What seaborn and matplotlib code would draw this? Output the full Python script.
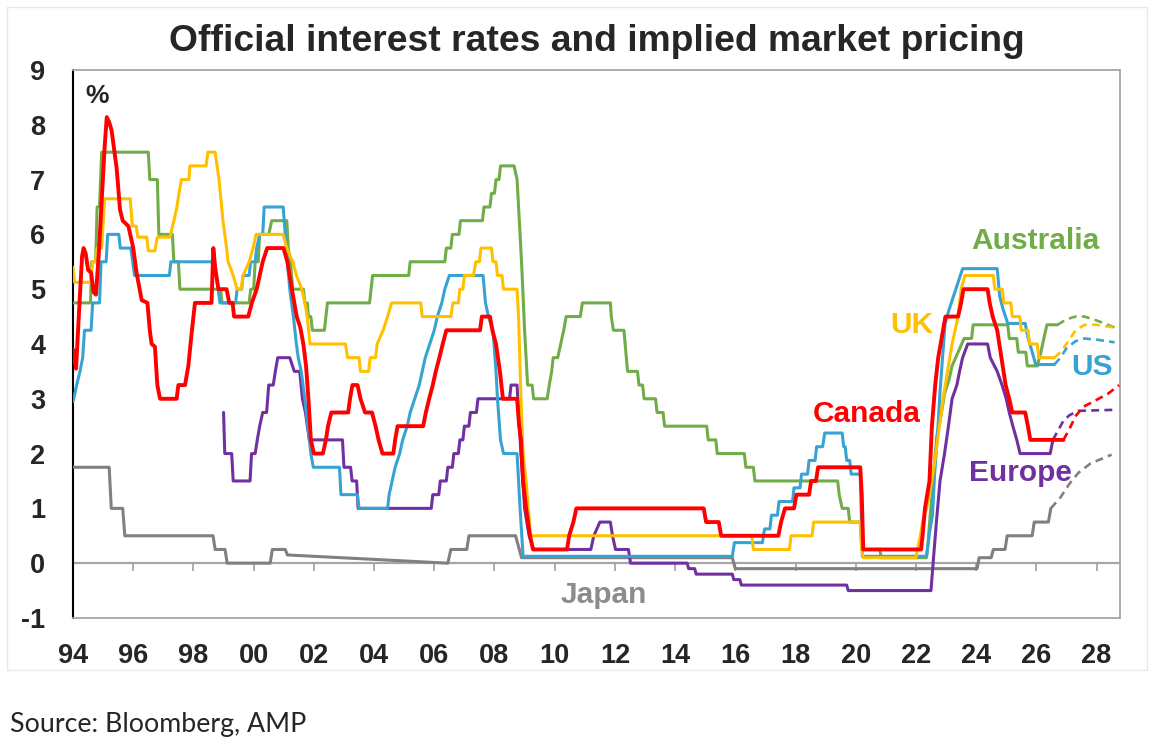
import pandas as pd
import matplotlib
matplotlib.use("Agg")
import matplotlib.pyplot as plt
import seaborn as sns
from matplotlib.patches import Rectangle

# Policy rates: (year, % rate)
australia = [(1994.0, 4.75), (1994.58, 4.75), (1994.62, 5.5), (1994.75, 5.5), (1994.8, 6.5), (1994.88, 6.5),
             (1994.95, 7.5), (1996.5, 7.5), (1996.55, 7.0), (1996.8, 7.0), (1996.85, 6.0), (1997.3, 6.0),
             (1997.35, 5.5), (1997.5, 5.5), (1997.55, 5.0), (1998.9, 5.0), (1998.95, 4.75), (1999.85, 4.75),
             (1999.9, 5.0), (2000.0, 5.0), (2000.05, 5.5), (2000.15, 5.5), (2000.2, 6.0), (2000.5, 6.0),
             (2000.6, 6.25), (2001.1, 6.25), (2001.15, 5.75), (2001.22, 5.5), (2001.3, 5.0), (2001.65, 5.0),
             (2001.7, 4.75), (2001.78, 4.75), (2001.82, 4.5), (2001.9, 4.5), (2001.95, 4.25), (2002.35, 4.25),
             (2002.4, 4.5), (2002.45, 4.75), (2003.85, 4.75), (2003.9, 5.0), (2003.95, 5.25), (2005.15, 5.25),
             (2005.2, 5.5), (2006.35, 5.5), (2006.4, 5.75), (2006.55, 5.75), (2006.6, 6.0), (2006.82, 6.0),
             (2006.87, 6.25), (2007.6, 6.25), (2007.65, 6.5), (2007.85, 6.5), (2007.9, 6.75), (2008.0, 6.75),
             (2008.05, 7.0), (2008.15, 7.0), (2008.2, 7.25), (2008.65, 7.25), (2008.75, 7.0), (2008.85, 6.0),
             (2008.92, 5.25), (2009.0, 4.25), (2009.1, 3.25), (2009.25, 3.25), (2009.3, 3.0), (2009.75, 3.0),
             (2009.82, 3.25), (2009.9, 3.5), (2009.95, 3.75), (2010.1, 3.75), (2010.2, 4.0), (2010.3, 4.25),
             (2010.38, 4.5), (2010.85, 4.5), (2010.92, 4.75), (2011.85, 4.75), (2011.88, 4.5), (2011.95, 4.25),
             (2012.3, 4.25), (2012.38, 3.75), (2012.42, 3.5), (2012.75, 3.5), (2012.8, 3.25), (2012.92, 3.25),
             (2012.97, 3.0), (2013.35, 3.0), (2013.4, 2.75), (2013.6, 2.75), (2013.65, 2.5), (2015.05, 2.5),
             (2015.1, 2.25), (2015.35, 2.25), (2015.4, 2.0), (2016.3, 2.0), (2016.35, 1.75), (2016.6, 1.75),
             (2016.65, 1.5), (2019.4, 1.5), (2019.45, 1.25), (2019.55, 1.0), (2019.75, 1.0), (2019.8, 0.75),
             (2020.15, 0.75), (2020.2, 0.25), (2020.8, 0.25), (2020.85, 0.1), (2022.35, 0.1), (2022.4, 0.35),
             (2022.47, 0.85), (2022.55, 1.35), (2022.62, 1.85), (2022.7, 2.35), (2022.8, 2.6), (2022.88, 2.85),
             (2022.95, 3.1), (2023.1, 3.35), (2023.2, 3.6), (2023.4, 3.85), (2023.6, 4.1), (2023.85, 4.1),
             (2023.9, 4.35), (2025.05, 4.35), (2025.1, 4.1), (2025.35, 4.1), (2025.4, 3.85), (2025.65, 3.85),
             (2025.7, 3.6), (2026.03, 3.6), (2026.15, 3.85), (2026.25, 4.1), (2026.35, 4.35), (2026.7, 4.35)]
australia_fwd = [(2026.7, 4.35), (2027.0, 4.45), (2027.3, 4.5), (2027.6, 4.5), (2028.0, 4.43), (2028.7, 4.28)]

uk = [(1994.0, 5.4), (1994.05, 5.125), (1994.58, 5.125), (1994.65, 5.5), (1994.75, 5.5), (1994.8, 5.75),
      (1994.95, 5.75), (1995.05, 6.65), (1995.9, 6.65), (1995.97, 6.15), (1996.1, 6.15), (1996.15, 5.95),
      (1996.45, 5.95), (1996.5, 5.7), (1996.72, 5.7), (1996.8, 5.95), (1997.22, 5.95), (1997.35, 6.25),
      (1997.45, 6.5), (1997.52, 6.75), (1997.6, 7.0), (1997.85, 7.0), (1997.88, 7.25), (1998.42, 7.25),
      (1998.48, 7.5), (1998.72, 7.5), (1998.85, 7.0), (1998.98, 6.25), (1999.1, 5.75), (1999.15, 5.5),
      (1999.32, 5.25), (1999.45, 5.0), (1999.58, 5.0), (1999.65, 5.25), (1999.85, 5.5), (1999.98, 5.75),
      (2000.08, 6.0), (2000.98, 6.0), (2001.1, 5.75), (2001.3, 5.5), (2001.42, 5.25), (2001.6, 5.0),
      (2001.7, 4.75), (2001.78, 4.5), (2001.87, 4.0), (2003.05, 4.0), (2003.12, 3.75), (2003.5, 3.75),
      (2003.55, 3.5), (2003.82, 3.5), (2003.87, 3.75), (2004.05, 3.75), (2004.1, 4.0), (2004.3, 4.25),
      (2004.45, 4.5), (2004.58, 4.75), (2005.55, 4.75), (2005.6, 4.5), (2006.55, 4.5), (2006.62, 4.75),
      (2006.8, 4.75), (2006.85, 5.0), (2006.95, 5.0), (2007.0, 5.25), (2007.3, 5.25), (2007.38, 5.5),
      (2007.5, 5.5), (2007.55, 5.75), (2007.9, 5.75), (2007.95, 5.5), (2008.05, 5.5), (2008.1, 5.25),
      (2008.25, 5.25), (2008.3, 5.0), (2008.75, 5.0), (2008.8, 4.5), (2008.88, 3.0), (2008.95, 2.0),
      (2009.05, 1.5), (2009.12, 1.0), (2009.2, 0.5), (2016.55, 0.5), (2016.6, 0.25), (2017.8, 0.25),
      (2017.85, 0.5), (2018.55, 0.5), (2018.6, 0.75), (2020.15, 0.75), (2020.2, 0.25), (2020.25, 0.1),
      (2022.0, 0.1), (2022.05, 0.25), (2022.15, 0.5), (2022.22, 0.75), (2022.35, 1.0), (2022.45, 1.25),
      (2022.6, 1.75), (2022.72, 2.25), (2022.9, 3.0), (2023.05, 3.5), (2023.2, 4.0), (2023.3, 4.25),
      (2023.4, 4.5), (2023.5, 5.0), (2023.63, 5.25), (2024.57, 5.25), (2024.62, 5.0), (2024.87, 5.0),
      (2024.92, 4.75), (2025.15, 4.75), (2025.2, 4.5), (2025.45, 4.5), (2025.5, 4.25), (2025.72, 4.25),
      (2025.78, 4.0), (2026.03, 4.0), (2026.08, 3.75), (2026.6, 3.75)]
uk_fwd = [(2026.6, 3.75), (2026.8, 3.85), (2027.0, 4.0), (2027.3, 4.25), (2027.6, 4.35), (2028.0, 4.35),
          (2028.6, 4.3)]

us = [(1994.0, 2.95), (1994.12, 3.25), (1994.23, 3.5), (1994.32, 3.75), (1994.38, 4.25), (1994.6, 4.25),
      (1994.65, 4.75), (1994.88, 4.75), (1994.93, 5.5), (1995.1, 5.5), (1995.15, 6.0), (1995.52, 6.0),
      (1995.57, 5.75), (1995.92, 5.75), (1995.98, 5.5), (1996.04, 5.25), (1997.2, 5.25), (1997.25, 5.5),
      (1998.68, 5.5), (1998.75, 5.25), (1998.82, 5.0), (1998.88, 4.75), (1999.4, 4.75), (1999.45, 5.0),
      (1999.6, 5.0), (1999.65, 5.25), (1999.85, 5.25), (1999.9, 5.5), (2000.05, 5.5), (2000.1, 5.75),
      (2000.2, 6.0), (2000.3, 6.0), (2000.35, 6.5), (2000.98, 6.5), (2001.05, 6.0), (2001.12, 5.5),
      (2001.2, 5.0), (2001.32, 4.5), (2001.42, 4.0), (2001.48, 3.75), (2001.58, 3.5), (2001.7, 3.0),
      (2001.8, 2.5), (2001.9, 2.0), (2001.98, 1.75), (2002.85, 1.75), (2002.9, 1.25), (2003.45, 1.25),
      (2003.5, 1.0), (2004.45, 1.0), (2004.5, 1.25), (2004.6, 1.5), (2004.7, 1.75), (2004.85, 2.0),
      (2004.95, 2.25), (2005.1, 2.5), (2005.2, 2.75), (2005.35, 3.0), (2005.5, 3.25), (2005.6, 3.5),
      (2005.7, 3.75), (2005.85, 4.0), (2006.0, 4.25), (2006.1, 4.5), (2006.25, 4.75), (2006.35, 5.0),
      (2006.5, 5.25), (2007.62, 5.25), (2007.7, 4.75), (2007.8, 4.5), (2007.95, 4.25), (2008.05, 3.5),
      (2008.1, 3.0), (2008.2, 2.25), (2008.3, 2.0), (2008.75, 2.0), (2008.8, 1.5), (2008.85, 1.0),
      (2008.95, 0.125), (2015.9, 0.125), (2015.97, 0.375), (2016.9, 0.375), (2016.97, 0.625), (2017.15, 0.625),
      (2017.2, 0.875), (2017.4, 0.875), (2017.45, 1.125), (2017.9, 1.125), (2017.95, 1.375), (2018.15, 1.375),
      (2018.2, 1.625), (2018.4, 1.625), (2018.45, 1.875), (2018.65, 1.875), (2018.7, 2.125), (2018.9, 2.125),
      (2018.97, 2.375), (2019.55, 2.375), (2019.6, 2.125), (2019.65, 2.125), (2019.7, 1.875), (2019.8, 1.875),
      (2019.85, 1.625), (2020.15, 1.625), (2020.22, 0.125), (2022.35, 0.125), (2022.45, 0.55), (2022.55, 0.875),
      (2022.62, 1.625), (2022.72, 2.375), (2022.8, 3.125), (2022.9, 3.875), (2022.97, 4.375), (2023.1, 4.625),
      (2023.25, 4.875), (2023.4, 5.125), (2023.55, 5.375), (2024.7, 5.375), (2024.78, 4.875), (2024.9, 4.625),
      (2025.05, 4.375), (2025.63, 4.375), (2025.72, 4.125), (2025.85, 3.875), (2025.98, 3.625), (2026.6, 3.625)]
us_fwd = [(2026.6, 3.625), (2026.8, 3.75), (2027.0, 3.92), (2027.3, 4.05), (2027.6, 4.1), (2028.0, 4.08),
          (2028.6, 4.03)]

canada = [(1994.0, 3.9), (1994.1, 3.55), (1994.2, 4.6), (1994.3, 5.6), (1994.35, 5.75), (1994.42, 5.65),
          (1994.5, 5.35), (1994.6, 5.3), (1994.68, 4.95), (1994.76, 4.9), (1994.85, 5.6), (1994.95, 6.6),
          (1995.05, 7.6), (1995.12, 8.14), (1995.2, 8.05), (1995.28, 7.9), (1995.45, 7.2), (1995.56, 6.45),
          (1995.65, 6.25), (1995.84, 6.15), (1996.0, 5.75), (1996.11, 5.3), (1996.28, 4.8), (1996.47, 4.75),
          (1996.55, 4.25), (1996.61, 4.0), (1996.72, 3.95), (1996.8, 3.25), (1996.89, 3.0), (1997.44, 3.0),
          (1997.5, 3.25), (1997.72, 3.25), (1997.83, 3.6), (1997.94, 4.2), (1998.05, 4.75), (1998.6, 4.75),
          (1998.66, 5.75), (1998.72, 5.4), (1998.83, 5.0), (1999.1, 5.0), (1999.19, 4.75), (1999.3, 4.75),
          (1999.35, 4.5), (1999.82, 4.5), (1999.94, 4.75), (2000.1, 5.0), (2000.2, 5.25), (2000.3, 5.5),
          (2000.45, 5.75), (2000.99, 5.75), (2001.12, 5.5), (2001.27, 5.0), (2001.43, 4.5), (2001.55, 4.3),
          (2001.65, 4.0), (2001.74, 3.6), (2001.82, 3.0), (2001.9, 2.25), (2002.0, 2.0), (2002.3, 2.0),
          (2002.4, 2.25), (2002.47, 2.5), (2002.58, 2.75), (2003.14, 2.75), (2003.2, 3.0), (2003.28, 3.25),
          (2003.45, 3.25), (2003.55, 3.0), (2003.7, 2.75), (2003.93, 2.75), (2004.05, 2.5), (2004.15, 2.25),
          (2004.28, 2.0), (2004.64, 2.0), (2004.7, 2.25), (2004.78, 2.5), (2005.63, 2.5), (2005.72, 2.75),
          (2005.83, 3.0), (2005.95, 3.25), (2006.05, 3.5), (2006.17, 3.75), (2006.28, 4.0), (2006.4, 4.25),
          (2007.52, 4.25), (2007.58, 4.5), (2007.85, 4.5), (2007.93, 4.25), (2008.05, 4.0), (2008.18, 3.5),
          (2008.28, 3.0), (2008.75, 3.0), (2008.82, 2.5), (2008.88, 2.25), (2008.95, 1.5), (2009.05, 1.0),
          (2009.18, 0.5), (2009.28, 0.25), (2010.41, 0.25), (2010.48, 0.5), (2010.62, 0.75), (2010.72, 1.0),
          (2014.95, 1.0), (2015.03, 0.75), (2015.45, 0.75), (2015.53, 0.5), (2017.43, 0.5), (2017.52, 0.75),
          (2017.65, 1.0), (2017.95, 1.0), (2018.03, 1.25), (2018.45, 1.25), (2018.52, 1.5), (2018.68, 1.5),
          (2018.75, 1.75), (2020.15, 1.75), (2020.2, 1.25), (2020.25, 0.25), (2022.17, 0.25), (2022.22, 0.5),
          (2022.3, 1.0), (2022.45, 1.5), (2022.53, 2.5), (2022.64, 3.25), (2022.74, 3.75), (2022.9, 4.25),
          (2022.98, 4.5), (2023.4, 4.5), (2023.5, 4.75), (2023.58, 5.0), (2024.38, 5.0), (2024.45, 4.75),
          (2024.55, 4.5), (2024.7, 4.25), (2024.84, 3.75), (2024.98, 3.25), (2025.1, 3.0), (2025.2, 2.75),
          (2025.63, 2.75), (2025.72, 2.5), (2025.8, 2.25), (2026.9, 2.25)]
canada_fwd = [(2026.9, 2.25), (2027.1, 2.45), (2027.3, 2.68), (2027.55, 2.85), (2028.0, 2.98), (2028.4, 3.1),
              (2028.75, 3.25)]

europe = [(1999.0, 2.75), (1999.04, 2.0), (1999.27, 2.0), (1999.32, 1.5), (1999.88, 1.5), (1999.93, 2.0),
          (2000.05, 2.0), (2000.12, 2.25), (2000.2, 2.5), (2000.3, 2.75), (2000.43, 2.75), (2000.5, 3.25),
          (2000.65, 3.25), (2000.72, 3.5), (2000.8, 3.75), (2001.2, 3.75), (2001.35, 3.5), (2001.53, 3.5),
          (2001.62, 3.0), (2001.72, 2.75), (2001.85, 2.25), (2002.95, 2.25), (2003.0, 1.75), (2003.22, 1.75),
          (2003.27, 1.5), (2003.42, 1.5), (2003.47, 1.0), (2005.9, 1.0), (2005.95, 1.25), (2006.15, 1.25),
          (2006.2, 1.5), (2006.4, 1.5), (2006.45, 1.75), (2006.6, 1.75), (2006.65, 2.0), (2006.8, 2.0),
          (2006.85, 2.25), (2006.95, 2.25), (2007.0, 2.5), (2007.15, 2.5), (2007.2, 2.75), (2007.4, 2.75),
          (2007.45, 3.0), (2008.5, 3.0), (2008.55, 3.25), (2008.75, 3.25), (2008.8, 2.75), (2008.88, 2.0),
          (2009.0, 1.0), (2009.15, 0.5), (2009.3, 0.25), (2011.2, 0.25), (2011.3, 0.5), (2011.5, 0.75),
          (2011.85, 0.75), (2011.92, 0.5), (2012.02, 0.25), (2012.45, 0.25), (2012.52, 0.0), (2014.4, 0.0),
          (2014.45, -0.1), (2014.65, -0.1), (2014.7, -0.2), (2015.9, -0.2), (2015.95, -0.3), (2016.15, -0.3),
          (2016.2, -0.4), (2019.7, -0.4), (2019.75, -0.5), (2022.5, -0.5), (2022.57, 0.0), (2022.68, 0.75),
          (2022.8, 1.5), (2022.95, 2.0), (2023.08, 2.5), (2023.2, 3.0), (2023.36, 3.25), (2023.45, 3.5),
          (2023.55, 3.75), (2023.72, 4.0), (2024.38, 4.0), (2024.47, 3.75), (2024.7, 3.5), (2024.86, 3.25),
          (2025.0, 3.0), (2025.1, 2.75), (2025.22, 2.5), (2025.35, 2.25), (2025.46, 2.0), (2026.46, 2.0),
          (2026.55, 2.25)]
europe_fwd = [(2026.55, 2.25), (2026.7, 2.4), (2026.9, 2.6), (2027.1, 2.7), (2027.4, 2.78), (2028.7, 2.8)]

japan = [(1994.0, 1.75), (1995.2, 1.75), (1995.27, 1.0), (1995.65, 1.0), (1995.72, 0.5), (1998.65, 0.5),
         (1998.72, 0.25), (1999.05, 0.25), (1999.12, 0.0), (2000.55, 0.0), (2000.62, 0.25), (2001.05, 0.25),
         (2001.12, 0.15), (2006.45, 0.0), (2006.55, 0.25), (2007.08, 0.25), (2007.15, 0.5), (2008.7, 0.5),
         (2008.8, 0.3), (2008.9, 0.1), (2015.9, 0.1), (2016.0, -0.1), (2024.03, -0.1), (2024.1, 0.1),
         (2024.5, 0.1), (2024.57, 0.25), (2024.96, 0.25), (2025.03, 0.5), (2025.86, 0.5), (2025.93, 0.75),
         (2026.4, 0.75), (2026.48, 1.0)]
japan_fwd = [(2026.48, 1.0), (2026.8, 1.2), (2027.1, 1.45), (2027.4, 1.65), (2027.8, 1.82), (2028.5, 1.98)]

# label text, (year, value) of the baseline centre
labels = {"Australia": (2025.98, 5.74), "UK": (2021.86, 4.2), "US": (2027.84, 3.43),
          "Canada": (2020.36, 2.58), "Europe": (2025.46, 1.5), "Japan": (2011.64, -0.73)}

year_ticks = list(range(1994, 2029, 2))
year_labels = [f"{y % 100:02d}" for y in year_ticks]
rate_ticks = list(range(-1, 10))

colors = {"Australia": "#70AD47", "UK": "#FFC000", "US": "#37A3D2",
          "Canada": "#FF0000", "Europe": "#7030A0", "Japan": "#808080"}

sns.set_style("white")
plt.rcParams["font.family"] = ["Liberation Sans", "DejaVu Sans"]

fig = plt.figure(figsize=(11.65, 7.55), dpi=100)
ax = fig.add_axes([0.0627, 0.1815, 0.8987, 0.7258])


def draw(points, name, lw, dashed=False):
    df = pd.DataFrame(points, columns=["year", "rate"])
    sns.lineplot(data=df, x="year", y="rate", ax=ax, color=colors[name], linewidth=lw,
                 sort=False, estimator=None, linestyle=(0, (3, 2)) if dashed else "-", zorder=3)


series = [("Japan", japan, japan_fwd, 2.2), ("Europe", europe, europe_fwd, 2.2),
          ("Australia", australia, australia_fwd, 2.2), ("US", us, us_fwd, 2.2),
          ("UK", uk, uk_fwd, 2.2), ("Canada", canada, canada_fwd, 2.8)]
for name, solid, fwd, lw in series:
    draw(solid, name, lw)
    draw(fwd, name, 1.9, dashed=True)

ax.axhline(0, color="#A6A6A6", lw=1.6, zorder=1)

ax.set_xlim(1994, 2028.78)
ax.set_ylim(-1, 9)
ax.set_xlabel("")
ax.set_ylabel("")
ax.set_xticks(year_ticks)
ax.set_xticklabels(year_labels)
ax.set_yticks(rate_ticks)
ax.set_yticklabels([str(v) for v in rate_ticks])
ax.tick_params(axis="x", length=0, pad=18, labelsize=19.5)
ax.tick_params(axis="y", direction="out", length=6, width=1.3, color="#A6A6A6", pad=14, labelsize=19.5)
for lbl in ax.get_xticklabels() + ax.get_yticklabels():
    lbl.set_fontweight("bold")

for side in ["top", "right", "bottom"]:
    ax.spines[side].set_color("#A6A6A6")
    ax.spines[side].set_linewidth(1.3)
ax.spines["left"].set_color("black")
ax.spines["left"].set_linewidth(1.5)

# tick marks sit on the zero line
zero_axis = ax.secondary_xaxis(0.1)
zero_axis.set_xticks(year_ticks[1:])
zero_axis.set_xticklabels([])
zero_axis.tick_params(direction="out", length=6, width=1.3, color="#A6A6A6")
zero_axis.spines["bottom"].set_visible(False)

for name, (x, y) in labels.items():
    c = "#8C8C8C" if name == "Japan" else colors[name]
    ax.text(x, y, name, color=c, fontsize=21.5, fontweight="bold", ha="center", va="baseline", zorder=5)

ax.text(1994.81, 8.4, "%", fontsize=19, fontweight="bold", ha="center", va="baseline")

fig.text(0.512, 0.9325, "Official interest rates and implied market pricing", fontsize=26.8,
         fontweight="bold", ha="center", va="baseline")
fig.text(10 / 1165, 0.0305, "Source: Bloomberg, AMP", fontsize=19.3, family=["Lato", "DejaVu Sans"],
         ha="left", va="baseline")

fig.patches.append(Rectangle((7 / 1165, 85 / 755), 1140 / 1165, 663 / 755, fill=False,
                             edgecolor="#E8E8E8", lw=1, transform=fig.transFigure))

fig.savefig("out.png", dpi=100)
